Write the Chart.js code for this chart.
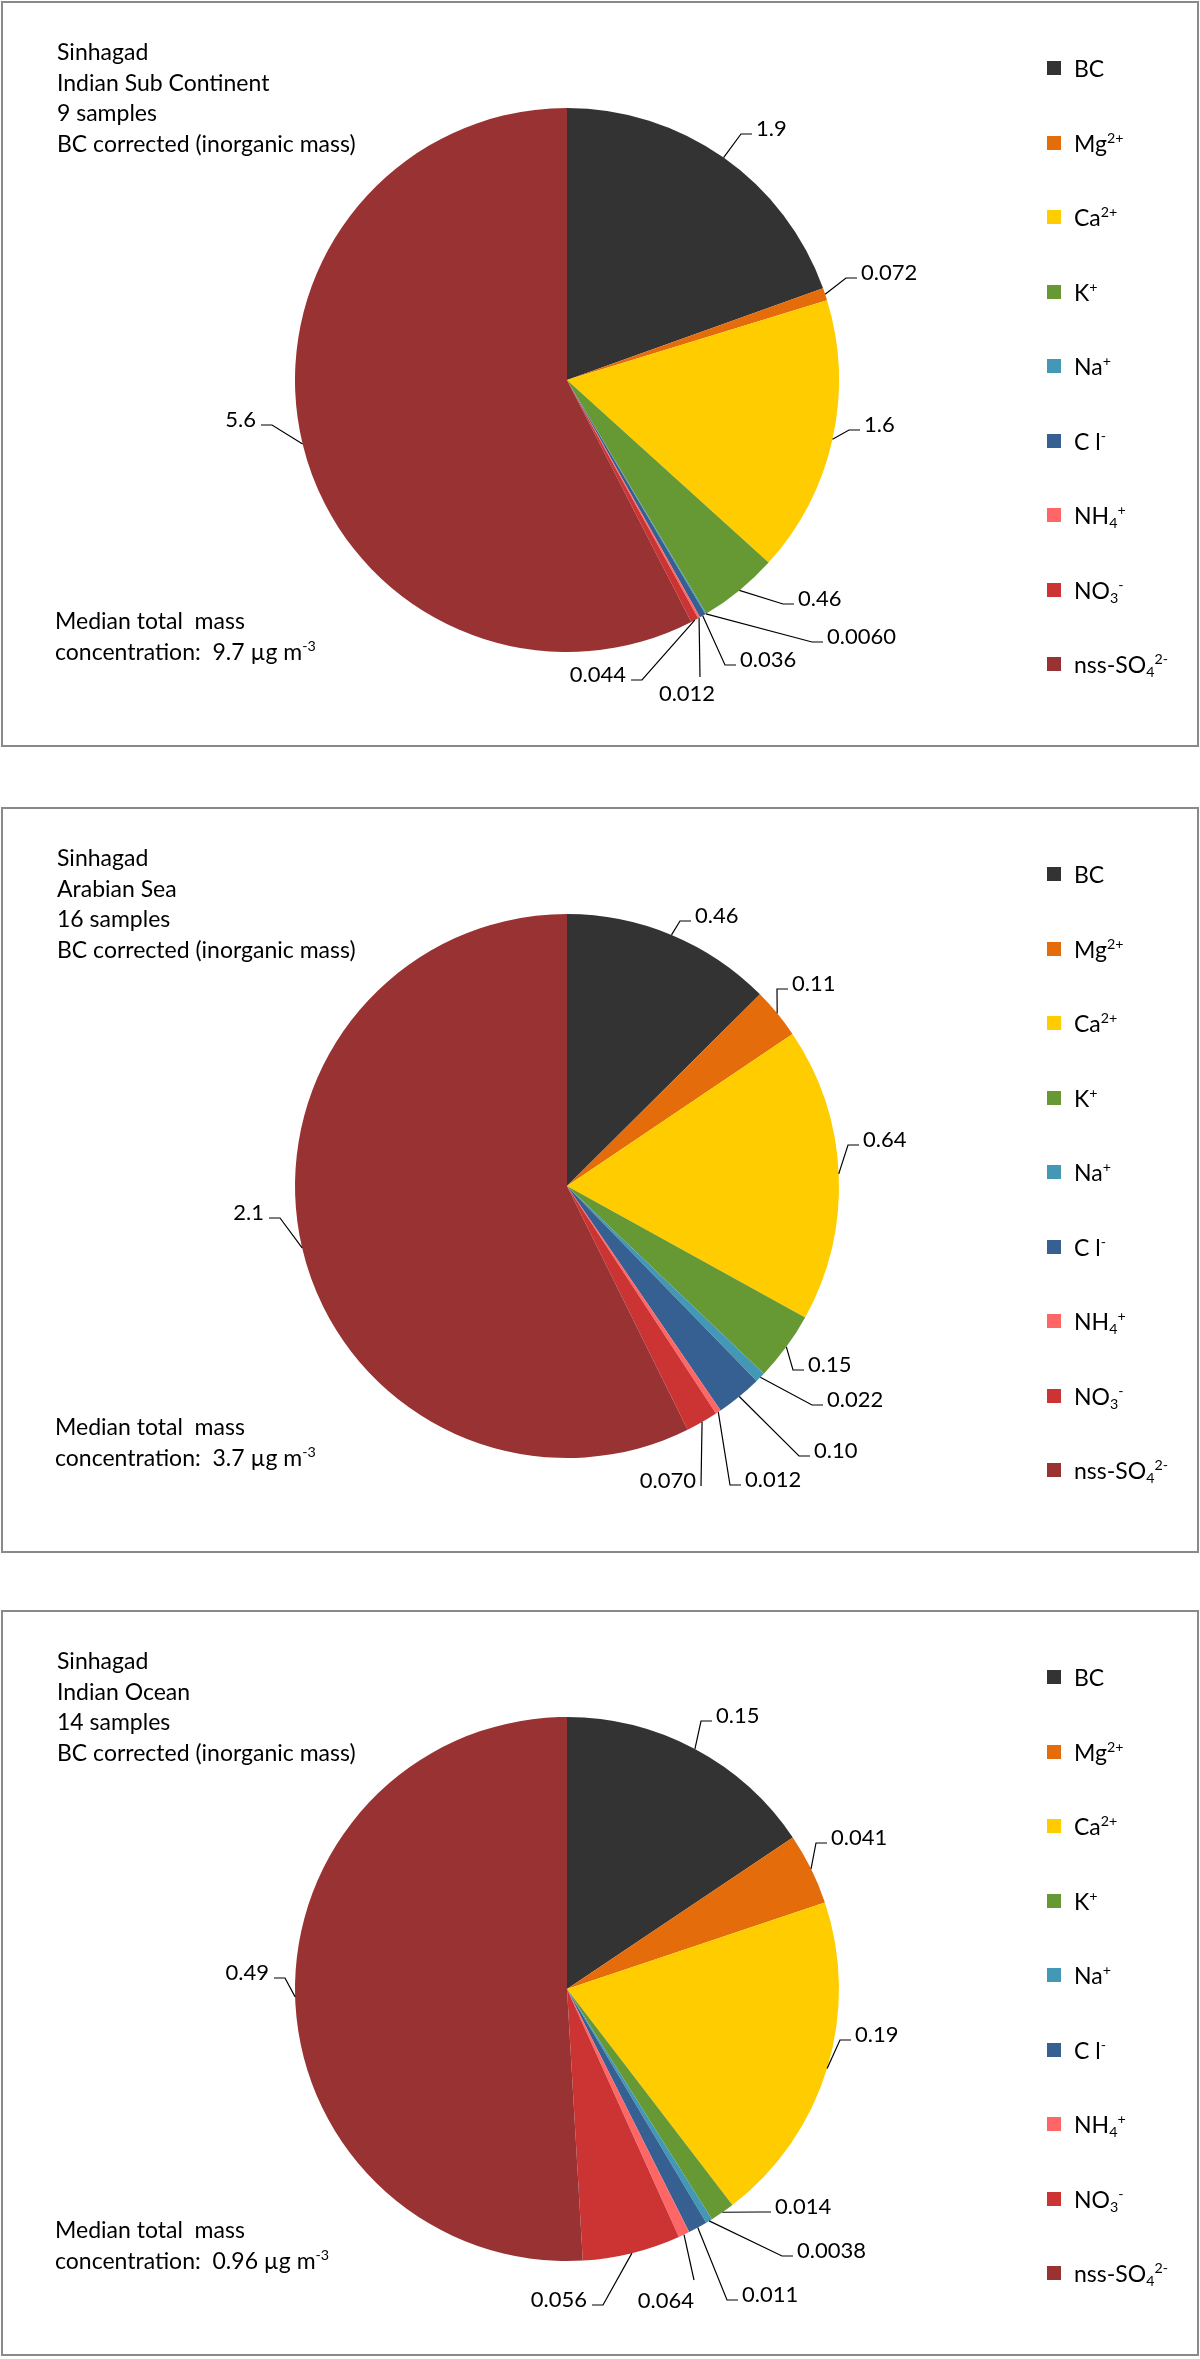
<!DOCTYPE html>
<html>
<head>
<meta charset="utf-8">
<title>Sinhagad inorganic mass</title>
<script src="https://cdn.jsdelivr.net/npm/chart.js@4.4.1/dist/chart.umd.min.js"></script>
<style>
html, body { margin: 0; padding: 0; background: #fff; }
body { width: 1200px; height: 2359px; position: relative; overflow: hidden;
       font-family: Lato, "Open Sans", sans-serif; color: #000; }
.panel { position: absolute; left: 1px; width: 1198px; height: 746px;
         box-sizing: border-box; border: 2px solid #898989; }
.panel canvas { position: absolute; left: 0; top: 0; }
.note { position: absolute; left: 54px; font-size: 23px; line-height: 30.5px; white-space: pre; }
.legend { position: absolute; left: 1044px; top: 0; margin: 0; padding: 0; list-style: none; }
.legend li { position: absolute; left: 0; height: 0; white-space: nowrap; font-size: 23px; }
.legend .box { position: absolute; left: 0; top: -7px; width: 14px; height: 14px; }
.legend .txt { position: absolute; left: 27px; top: -15px; line-height: 30px; }
sup, sub { font-size: 0.62em; line-height: 0; position: relative; vertical-align: baseline; }
sup { top: -0.6em; }
sub { top: 0.3em; }
</style>
</head>
<body>
<script>
// species (legend text, html markup for sub/superscripts)
const species = ['BC', 'Mg<sup>2+</sup>', 'Ca<sup>2+</sup>', 'K<sup>+</sup>', 'Na<sup>+</sup>',
    'C l<sup>-</sup>', 'NH<sub>4</sub><sup>+</sup>', 'NO<sub>3</sub><sup>-</sup>', 'nss-SO<sub>4</sub><sup>2-</sup>'];
const colors = ['#333333', '#e46c0a', '#ffcc00', '#669933', '#4298b5', '#376092', '#ff6666', '#cc3333', '#993333'];

// median concentrations, ug m-3
const subContinent = [1.9, 0.072, 1.6, 0.46, 0.0060, 0.036, 0.012, 0.044, 5.6];
const arabianSea = [0.46, 0.11, 0.64, 0.15, 0.022, 0.10, 0.012, 0.070, 2.1];
const indianOcean = [0.15, 0.041, 0.19, 0.014, 0.0038, 0.011, 0.0064, 0.056, 0.49];
// printed labels as they appear in the figure
const indianOceanText = ['0.15', '0.041', '0.19', '0.014', '0.0038', '0.011', '0.064', '0.056', '0.49'];

const regions = ['Indian Sub Continent', 'Arabian Sea', 'Indian Ocean'];
const sampleCounts = [9, 16, 14];
const totalMass = ['9.7', '3.7', '0.96'];

// label elbow positions relative to pie centre, and which side the text goes
const subContinentLeaders = [[174, -246, 'r'], [279, -102, 'r'], [282, 50, 'r'], [216, 224, 'r'], [245, 262, 'r'],
    [158, 285, 'r'], [133, 297, 'b'], [75, 300, 'l'], [-295, 45, 'l']];
const arabianSeaLeaders = [[113, -265, 'r'], [210, -197, 'r'], [281, -41, 'r'], [226, 184, 'r'], [245, 219, 'r'],
    [232, 270, 'r'], [163, 299, 'r'], [134, 300, 'l0'], [-287, 32, 'l']];
const indianOceanLeaders = [[134, -268, 'r'], [249, -146, 'r'], [273, 51, 'r'], [193, 223, 'r'], [215, 267, 'r'],
    [160, 311, 'r'], [127, 291, 'bl'], [36, 316, 'l'], [-282, -11, 'l']];

const fmt = v => v.toPrecision(2);

const panels = [
    { top: 1, values: subContinent, text: subContinent.map(fmt), leaders: subContinentLeaders },
    { top: 807, values: arabianSea, text: arabianSea.map(fmt), leaders: arabianSeaLeaders },
    { top: 1610, values: indianOcean, text: indianOceanText, leaders: indianOceanLeaders }
];

// leader lines + value labels drawn from the arc elements
const leaderPlugin = {
    id: 'leaders',
    afterDatasetsDraw(chart, args, opts) {
        const ctx = chart.ctx;
        const meta = chart.getDatasetMeta(0);
        ctx.save();
        ctx.strokeStyle = '#000';
        ctx.lineWidth = 1.2;
        ctx.fillStyle = '#000';
        ctx.font = '22px Lato, "Open Sans", sans-serif';
        ctx.textBaseline = 'middle';
        meta.data.forEach((arc, i) => {
            const p = arc.getProps(['x', 'y', 'startAngle', 'endAngle', 'outerRadius'], true);
            const mid = (p.startAngle + p.endAngle) / 2;
            const rx = p.x + p.outerRadius * Math.cos(mid);
            const ry = p.y + p.outerRadius * Math.sin(mid);
            const [dx, dy, side] = opts.layout[i];
            const ex = p.x + dx, ey = p.y + dy;
            const tick = side === 'r' ? 11 : (side === 'l' ? -11 : 0);
            ctx.beginPath();
            ctx.moveTo(rx, ry);
            ctx.lineTo(ex, ey);
            ctx.lineTo(ex + tick, ey);
            ctx.stroke();
            const label = opts.text[i];
            if (side === 'r') {
                ctx.textAlign = 'left';
                ctx.fillText(label, ex + tick + 4, ey - 5);
            } else if (side === 'l' || side === 'l0') {
                ctx.textAlign = 'right';
                ctx.fillText(label, ex + tick - 5, ey - 5);
            } else if (side === 'b') {
                ctx.textAlign = 'center';
                ctx.fillText(label, ex - 13, ey + 17);
            } else {
                ctx.textAlign = 'right';
                ctx.fillText(label, ex, ey + 21);
            }
        });
        ctx.restore();
    }
};

// legend as html so the ions can carry sub/superscripts
const htmlLegendPlugin = {
    id: 'htmlLegend',
    afterUpdate(chart, args, opts) {
        const ul = opts.container;
        ul.innerHTML = '';
        const ds = chart.data.datasets[0];
        chart.data.labels.forEach((lab, i) => {
            const li = document.createElement('li');
            li.style.top = (65 + i * 74.5) + 'px';
            li.innerHTML = '<span class="box" style="background:' + ds.backgroundColor[i] + '"></span>' +
                '<span class="txt">' + lab + '</span>';
            ul.appendChild(li);
        });
    }
};

panels.forEach((p, k) => {
    const div = document.createElement('div');
    div.className = 'panel';
    div.style.top = p.top + 'px';
    div.innerHTML =
        '<canvas width="1194" height="742"></canvas>' +
        '<div class="note" style="top:33px">Sinhagad\n' + regions[k] + '\n' + sampleCounts[k] +
        ' samples\nBC corrected (inorganic mass)</div>' +
        '<div class="note" style="top:602px;left:52px">Median total  mass\nconcentration:  ' +
        totalMass[k] + ' \u00b5g m<sup>-3</sup></div>' +
        '<ul class="legend"></ul>';
    document.body.appendChild(div);

    new Chart(div.querySelector('canvas'), {
        type: 'pie',
        data: {
            labels: species,
            datasets: [{
                data: p.values,
                backgroundColor: colors,
                borderWidth: 0
            }]
        },
        options: {
            responsive: false,
            animation: false,
            layout: { padding: { left: 292, right: 358, top: 105, bottom: 93 } },
            plugins: {
                legend: { display: false },
                tooltip: { enabled: false },
                leaders: { layout: p.leaders, text: p.text },
                htmlLegend: { container: div.querySelector('.legend') }
            }
        },
        plugins: [leaderPlugin, htmlLegendPlugin]
    });
});
</script>
</body>
</html>
